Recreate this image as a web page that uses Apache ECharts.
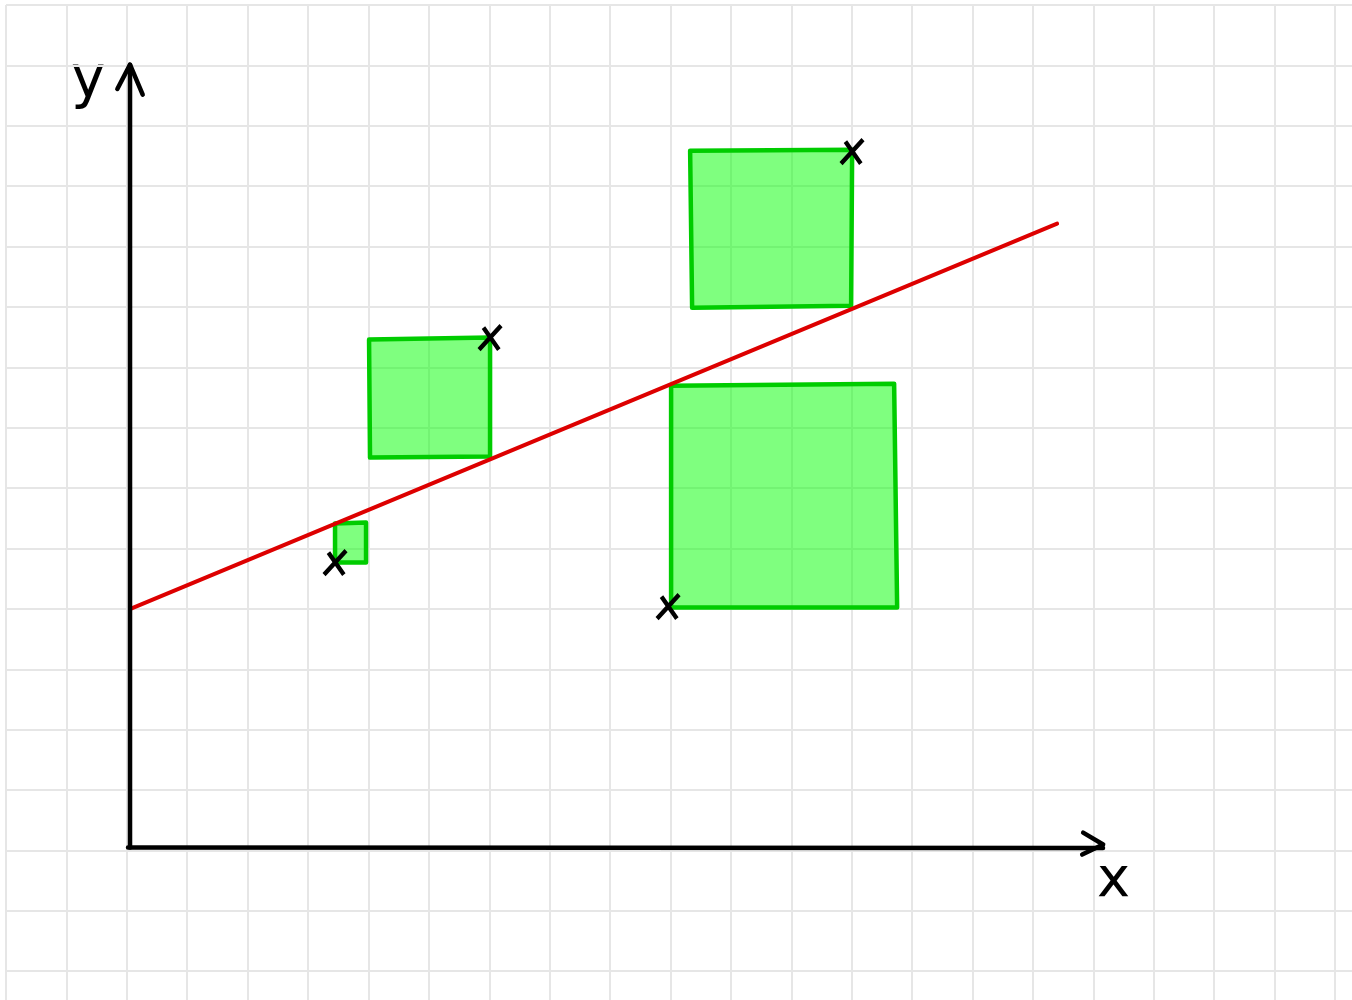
<!DOCTYPE html>
<html>
<head>
<meta charset="utf-8">
<script src="https://cdn.jsdelivr.net/npm/echarts@6/dist/echarts.min.js"></script>
<style>
html,body{margin:0;padding:0;background:#fff;}
#chart{width:1352px;height:1000px;}
</style>
</head>
<body>
<div id="chart"></div>
<script>
// Observed points (x, y) in grid units
const pointX = [3.447, 6.013, 12.005, 8.960];
const pointY = [4.767, 8.493, 11.571, 4.038];

// Fitted regression line end points
const fitX = [0.070, 15.40];
const fitY = [4.005, 10.379];

// Residual squares: corners TL, TR, BR, BL as [x, y]
const square1 = [[3.447, 5.412], [3.960, 5.429], [3.960, 4.767], [3.447, 4.767]];
const square2 = [[4.010, 8.459], [6.013, 8.492], [6.013, 6.522], [4.026, 6.505]];
const square3 = [[9.325, 11.588], [12.007, 11.604], [11.990, 9.021], [9.358, 8.988]];
const square4 = [[9.010, 7.697], [12.702, 7.730], [12.752, 4.022], [9.010, 4.022]];

// Hand-drawn axes
const yAxisLine = [[0.053, 0.048], [0.053, 13.01]];
const yArrow = [[-0.157, 12.609], [0.053, 13.012], [0.263, 12.515]];
const xAxisLine = [[0.02, 0.048], [16.16, 0.04]];
const xArrow = [[15.831, 0.296], [16.162, 0.098], [15.815, -0.068]];

// Axis labels
const axisNames = ['y', 'x'];

const squares = [square1, square2, square3, square4];
const squareData = squares.map(s => s.flat());
const points = pointX.map((x, i) => [x, pointY[i]]);
const fitLine = fitX.map((x, i) => [x, fitY[i]]);

const chart = echarts.init(document.getElementById('chart'), null, {renderer: 'canvas'});

function polyLine(data, color, width) {
  return {
    type: 'line', data: data, symbol: 'none', silent: true, clip: false,
    animation: false, z: 5,
    lineStyle: {color: color, width: width, cap: 'round', join: 'round'}
  };
}

const option = {
  animation: false,
  backgroundColor: '#ffffff',
  grid: {left: 6, top: 5, right: -43.4, bottom: -31.6, containLabel: false, outerBoundsMode: 'none'},
  xAxis: {
    type: 'value', min: -2, max: 21, interval: 1,
    axisLine: {show: false}, axisTick: {show: false}, axisLabel: {show: false},
    splitLine: {show: true, lineStyle: {color: '#e6e6e6', width: 2}}
  },
  yAxis: {
    type: 'value', min: -3, max: 14, interval: 1,
    axisLine: {show: false}, axisTick: {show: false}, axisLabel: {show: false},
    splitLine: {show: true, lineStyle: {color: '#e6e6e6', width: 2}}
  },
  series: [
    {
      type: 'custom',
      silent: true,
      z: 3,
      data: squareData,
      renderItem: function (params, api) {
        const pts = [];
        for (let k = 0; k < 4; k++) {
          pts.push(api.coord([api.value(2 * k), api.value(2 * k + 1)]));
        }
        return {
          type: 'polygon',
          shape: {points: pts},
          style: {fill: 'rgba(0,255,0,0.5)', stroke: '#00cc00', lineWidth: 4.5, lineJoin: 'round'}
        };
      }
    },
    polyLine(fitLine, '#dd0000', 4),
    polyLine(yAxisLine, '#000000', 4.5),
    polyLine(yArrow, '#000000', 4.5),
    polyLine(xAxisLine, '#000000', 4.5),
    polyLine(xArrow, '#000000', 4.5),
    {
      type: 'scatter',
      data: points,
      silent: true,
      z: 6,
      symbol: 'path://M2,1 L9,12 M10,0 L0,12',
      symbolSize: [22, 24],
      itemStyle: {color: 'rgba(0,0,0,0)', borderColor: '#000000', borderWidth: 4.5, opacity: 1}
    }
  ],
  graphic: [
    {
      type: 'text', left: 71, top: 53, silent: true,
      style: {text: axisNames[0], font: '58px "DejaVu Sans"', fill: '#000000'}
    },
    {
      type: 'text', left: 1097, top: 853, silent: true,
      style: {text: axisNames[1], font: '56px "DejaVu Sans"', fill: '#000000'}
    }
  ]
};
chart.setOption(option);
</script>
</body>
</html>
